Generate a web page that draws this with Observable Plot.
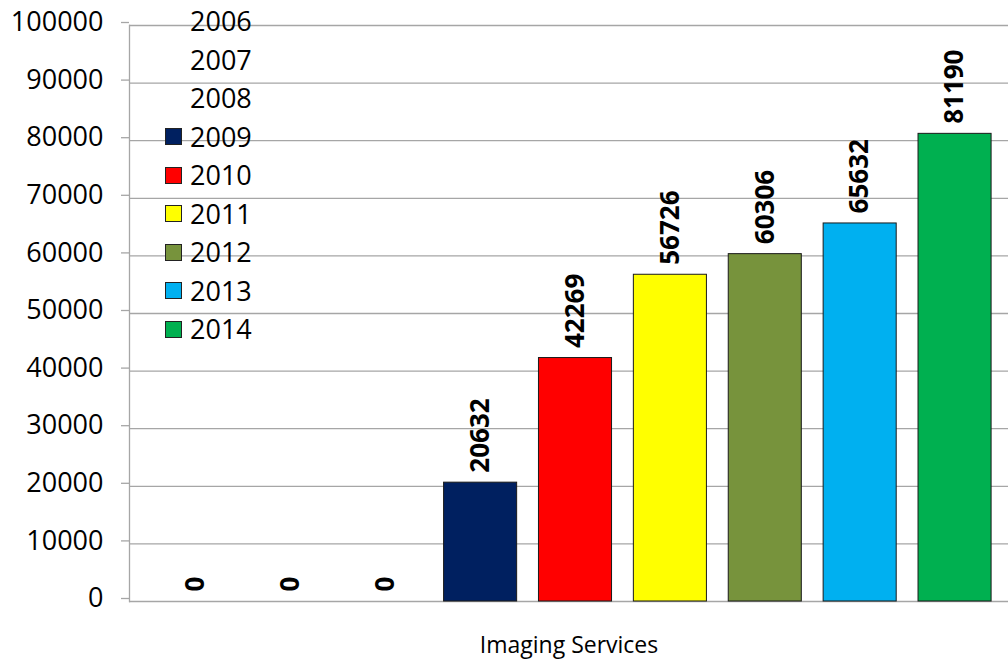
<!DOCTYPE html>
<html>
<head>
<meta charset="utf-8">
<script src="https://cdn.jsdelivr.net/npm/d3@7"></script>
<script src="https://cdn.jsdelivr.net/npm/@observablehq/plot@0.6"></script>
<style>
  html, body { margin: 0; padding: 0; background: #fff; }
  #wrap { position: relative; width: 1008px; height: 660px; font-family: "Open Sans", sans-serif; }
  #legend { position: absolute; left: 165px; top: 2px; font-size: 27px; color: #000; }
  #legend .row { height: 38.5px; line-height: 38.5px; display: flex; align-items: center; }
  #legend .sw { width: 15px; height: 15px; border: 1px solid #222; margin-right: 8px; box-sizing: content-box; }
</style>
</head>
<body>
<div id="wrap"><div id="legend"></div></div>
<script>
const years = ["2006", "2007", "2008", "2009", "2010", "2011", "2012", "2013", "2014"];
const values = [0, 0, 0, 20632, 42269, 56726, 60306, 65632, 81190];
const colors = [null, null, null, "#002060", "#FF0000", "#FFFF00", "#77933C", "#00B0F0", "#00B050"];
const yTicks = [0, 10000, 20000, 30000, 40000, 50000, 60000, 70000, 80000, 90000, 100000];
const categoryLabel = "Imaging Services";

const data = years.map((year, i) => ({year, value: values[i], color: colors[i]}));

const chart = Plot.plot({
  width: 1008,
  height: 660,
  marginTop: 25,
  marginBottom: 59,
  marginLeft: 129,
  marginRight: 0,
  style: {fontFamily: "'Open Sans', sans-serif", fontSize: "27px", color: "#000", background: "#fff", overflow: "visible"},
  x: {type: "band", domain: years, range: [148, 1002], paddingInner: 0.23, paddingOuter: 0.115, round: false, axis: null},
  y: {domain: [0, 100000], ticks: yTicks},
  color: {type: "identity"},
  marks: [
    Plot.gridY(yTicks, {stroke: "#a6a6a6", strokeOpacity: 1, strokeWidth: 1.3}),
    Plot.axisY(yTicks, {tickSize: 8, tickPadding: 18, stroke: "#a6a6a6", strokeWidth: 1.3, fill: "#000", tickFormat: d => String(d), fontSize: 27, label: null, dy: -3}),
    Plot.frame({anchor: "left", stroke: "#a6a6a6", strokeWidth: 1.3}),
    Plot.barY(data.filter(d => d.value > 0), {x: "year", y: "value", fill: "color", stroke: "#1a1a1a", strokeWidth: 1, inset: 0}),
    Plot.text(data, {x: "year", y: "value", text: d => String(d.value), rotate: -90, textAnchor: "start", lineAnchor: "middle", dy: -10, fontWeight: "bold", fontSize: 26, fill: "#000"}),
    Plot.text([categoryLabel], {frameAnchor: "bottom", lineAnchor: "middle", dy: 44, fontSize: 23, fill: "#000"})
  ]
});
document.getElementById("wrap").prepend(chart);

const legend = document.getElementById("legend");
years.forEach((y, i) => {
  const row = document.createElement("div");
  row.className = "row";
  const sw = document.createElement("span");
  sw.className = "sw";
  if (colors[i]) sw.style.background = colors[i];
  else sw.style.visibility = "hidden";
  const t = document.createElement("span");
  t.textContent = y;
  row.append(sw, t);
  legend.append(row);
});
</script>
</body>
</html>
